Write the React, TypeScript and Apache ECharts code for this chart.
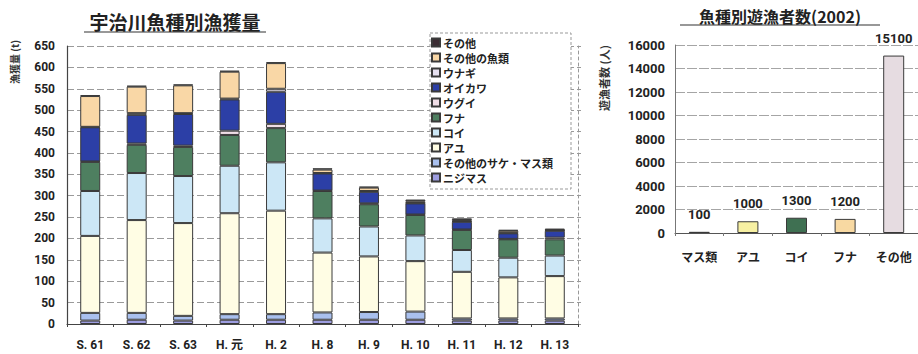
import React, { useEffect, useRef } from "react";
import * as echarts from "echarts";

// Annual catch on the Uji River by species (t)
const years = ["S. 61", "S. 62", "S. 63", "H. 元", "H. 2", "H. 8", "H. 9", "H. 10", "H. 11", "H. 12", "H. 13"];
const nijimasu = [8, 10, 8, 10, 10, 10, 10, 10, 8, 8, 8];
const sakeMasu = [18, 16, 11, 13, 13, 17, 18, 19, 5, 5, 5];
const ayu = [180, 217, 217, 236, 242, 140, 130, 118, 109, 96, 99];
const koi = [105, 110, 110, 111, 113, 80, 70, 60, 51, 46, 48];
const funa = [68, 66, 68, 72, 80, 64, 52, 48, 47, 43, 38];
const ugui = [1, 3, 3, 10, 10, 1, 2, 1, 1, 1, 4];
const oikawa = [80, 67, 74, 73, 75, 40, 27, 26, 18, 13, 16];
const unagi = [1, 4, 2, 2, 7, 1, 2, 1, 1, 1, 1];
const otherFish = [72, 62, 65, 63, 60, 8, 8, 4, 3, 5, 1];
const others = [2, 2, 2, 2, 2, 3, 2, 4, 4, 2, 3];

const catchTicks = { min: 0, max: 650, interval: 50 };

// Anglers by target species (2002)
const anglerSpecies = ["マス類", "アユ", "コイ", "フナ", "その他"];
const anglers = [100, 1000, 1300, 1200, 15100];
const anglerColors = ["#7a1f2a", "#f7f0a2", "#3f7052", "#f8d9a2", "#e6dce1"];
const anglerTicks = { min: 0, max: 16000, interval: 2000 };

const JP = '"Noto Sans CJK JP", sans-serif';
const NUM = 'Roboto, "Noto Sans CJK JP", sans-serif';

const stackSeries = [
  { name: "ニジマス", data: nijimasu, color: "#9d9de0" },
  { name: "その他のサケ・マス類", data: sakeMasu, color: "#a9c0ee" },
  { name: "アユ", data: ayu, color: "#fffde4" },
  { name: "コイ", data: koi, color: "#cce7f6" },
  { name: "フナ", data: funa, color: "#4e7f60" },
  { name: "ウグイ", data: ugui, color: "#efdde6" },
  { name: "オイカワ", data: oikawa, color: "#2c3fa6" },
  { name: "ウナギ", data: unagi, color: "#e6e0ef" },
  { name: "その他の魚類", data: otherFish, color: "#f9d7a6" },
  { name: "その他", data: others, color: "#3b2c33" },
];

export default function App() {
  const ref = useRef<HTMLDivElement>(null);

  useEffect(() => {
    if (!ref.current) return;
    const chart = echarts.init(ref.current, undefined, { renderer: "svg" });

    const barSeries: any[] = stackSeries.map((s) => ({
      name: s.name,
      type: "bar",
      stack: "catch",
      xAxisIndex: 0,
      yAxisIndex: 0,
      barWidth: 20,
      data: s.data,
      itemStyle: { color: s.color, borderColor: "#3a3a3a", borderWidth: 1 },
    }));

    barSeries.push({
      name: "遊漁者数",
      type: "bar",
      xAxisIndex: 1,
      yAxisIndex: 2,
      barWidth: 21,
      data: anglers.map((v, i) => ({ value: v, itemStyle: { color: anglerColors[i] } })),
      itemStyle: { borderColor: "#3a3a3a", borderWidth: 1 },
      label: {
        show: true,
        position: "top",
        distance: 11,
        fontFamily: NUM,
        fontWeight: "bold",
        fontSize: 13,
        color: "#222",
      },
    });

    chart.setOption({
      animation: false,
      backgroundColor: "#ffffff",
      grid: [
        { left: 67, top: 46, width: 511, height: 278 },
        { left: 675, top: 45, width: 245, height: 188 },
      ],
      legend: {
        orient: "vertical",
        left: 431,
        top: 37,
        padding: 0,
        itemWidth: 8,
        itemHeight: 8,
        itemGap: 4,
        icon: "rect",
        z: 6,
        data: stackSeries.map((s) => s.name).reverse(),
        textStyle: { fontFamily: JP, fontSize: 11, lineHeight: 11, fontWeight: "bold", color: "#222", padding: [0, 0, 0, -2] },
      },
      xAxis: [
        {
          type: "category",
          gridIndex: 0,
          data: years,
          axisLine: { lineStyle: { color: "#444", width: 1.2 } },
          axisTick: { show: true, length: 3, lineStyle: { color: "#444" } },
          axisLabel: { margin: 15, fontFamily: NUM, fontWeight: "bold", fontSize: 12, color: "#222" },
        },
        {
          type: "category",
          gridIndex: 1,
          data: anglerSpecies,
          axisLine: { lineStyle: { color: "#555", width: 1 } },
          axisTick: { show: true, length: 3, lineStyle: { color: "#777" } },
          axisLabel: { margin: 17, fontFamily: JP, fontWeight: "bold", fontSize: 12, color: "#222" },
        },
      ],
      yAxis: [
        {
          type: "value",
          gridIndex: 0,
          ...catchTicks,
          axisLine: { show: true, lineStyle: { color: "#444", width: 1.2 } },
          axisTick: { show: false },
          splitLine: { lineStyle: { color: "#9a9a9a", type: [7, 3], width: 1 } },
          axisLabel: { margin: 12, fontFamily: NUM, fontWeight: "bold", fontSize: 12, color: "#222" },
        },
        {
          type: "value",
          gridIndex: 0,
          position: "right",
          ...catchTicks,
          axisLine: { show: true, lineStyle: { color: "#999", type: [3, 3] } },
          axisTick: { show: true, length: 3, lineStyle: { color: "#999" } },
          axisLabel: { show: false },
          splitLine: { show: false },
        },
        {
          type: "value",
          gridIndex: 1,
          ...anglerTicks,
          axisLine: { show: true, lineStyle: { color: "#777", width: 1 } },
          axisTick: { show: false },
          splitLine: { lineStyle: { color: "#a5a5a5", type: [10, 2], width: 1 } },
          axisLabel: {
            margin: 10,
            fontFamily: NUM,
            fontWeight: "bold",
            fontSize: 13,
            color: "#222",
            formatter: (v: number) => String(v),
          },
        },
      ],
      series: barSeries,
      graphic: [
        {
          type: "rect",
          z: 5,
          shape: { x: 430, y: 33, width: 141, height: 156 },
          style: { fill: "#ffffff", stroke: "#999", lineWidth: 1, lineDash: [3, 2] },
        },
        {
          type: "text",
          x: 175,
          y: 21,
          style: { text: "宇治川魚種別漁獲量", fontFamily: JP, fontWeight: "bold", fontSize: 19, fill: "#222", align: "center", verticalAlign: "middle" },
        },
        { type: "line", shape: { x1: 84, y1: 32, x2: 266, y2: 32 }, style: { stroke: "#333", lineWidth: 1.2 } },
        {
          type: "text",
          x: 14,
          y: 62,
          rotation: Math.PI / 2,
          style: { text: "漁獲量 (t)", fontFamily: JP, fontWeight: "bold", fontSize: 10, fill: "#333", align: "center", verticalAlign: "middle" },
        },
        {
          type: "text",
          x: 780,
          y: 16,
          style: { text: "魚種別遊漁者数(2002)", fontFamily: JP, fontWeight: "bold", fontSize: 16, fill: "#222", align: "center", verticalAlign: "middle" },
        },
        { type: "line", shape: { x1: 680, y1: 25, x2: 880, y2: 25 }, style: { stroke: "#333", lineWidth: 1.2 } },
        {
          type: "text",
          x: 604,
          y: 78,
          rotation: Math.PI / 2,
          style: { text: "遊漁者数 (人)", fontFamily: JP, fontWeight: "bold", fontSize: 11, fill: "#333", align: "center", verticalAlign: "middle" },
        },
      ],
    });

    return () => chart.dispose();
  }, []);

  return (
    <div
      ref={ref}
      style={{ position: "fixed", left: 0, top: 0, width: 918, height: 354, background: "#fff" }}
    />
  );
}
